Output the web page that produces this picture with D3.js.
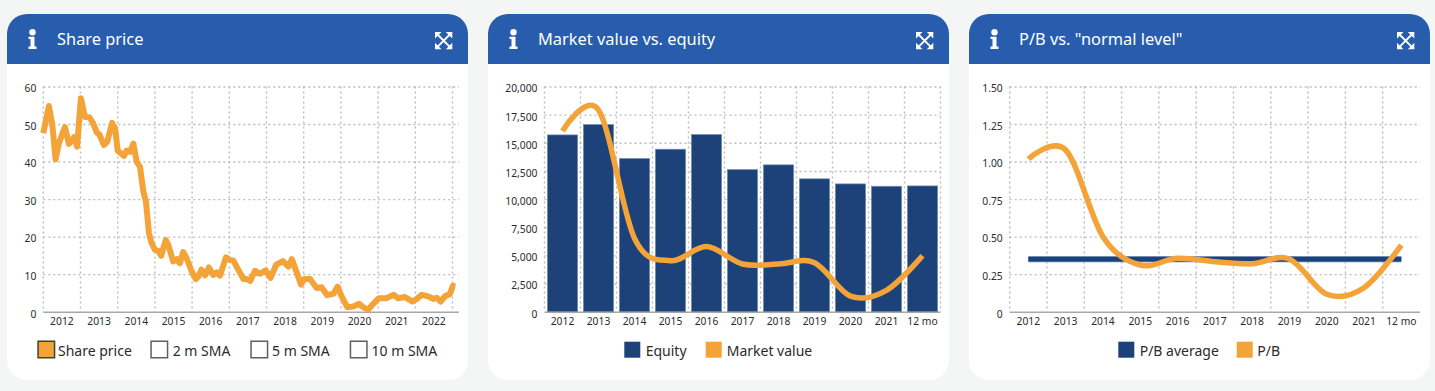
<!DOCTYPE html>
<html>
<head>
<meta charset="utf-8">
<script src="https://cdn.jsdelivr.net/npm/d3@7"></script>
<style>
  html, body { margin: 0; background: #f4f6f6; }
  svg { display: block; }
  text { font-family: "Noto Sans", sans-serif; fill: #2b2b2b; }
  .title { font-size: 16.4px; fill: #fff; }
  .tick text { font-size: 10.3px; }
  .legend text { font-size: 14px; }
  .grid line { stroke: #bcbcbc; stroke-width: 1.4; stroke-dasharray: 2 3; }
  .grid path { display: none; }
  .x-axis path { stroke: #a8a8a8; stroke-width: 1.5; }
  .y-axis path, .y-axis line, .x-axis line { display: none; }
  .curve { fill: none; stroke: #f4a338; stroke-width: 5.5; stroke-linejoin: round; }
  .price { stroke-width: 6; }
</style>
</head>
<body>
<svg id="chart" width="1435" height="391"></svg>
<script>
// share price
const priceYears = [2012,2012.15,2012.24,2012.33,2012.42,2012.58,2012.69,2012.83,2012.91,2013.01,2013.12,2013.24,2013.34,2013.44,2013.51,2013.63,2013.72,2013.85,2013.93,2014,
  2014.17,2014.24,2014.33,2014.42,2014.51,2014.6,2014.69,2014.76,2014.84,2014.91,2015,2015.09,2015.17,2015.29,2015.36,2015.49,2015.59,2015.67,2015.76,2015.85,
  2015.99,2016.1,2016.17,2016.25,2016.35,2016.45,2016.57,2016.66,2016.75,2016.91,2017.02,2017.11,2017.24,2017.38,2017.47,2017.56,2017.69,2017.83,2017.98,2018.11,
  2018.26,2018.44,2018.59,2018.68,2018.77,2018.93,2019.01,2019.17,2019.35,2019.48,2019.63,2019.8,2019.91,2020.02,2020.17,2020.33,2020.49,2020.6,2020.73,2020.87,
  2021.02,2021.23,2021.41,2021.54,2021.72,2021.93,2022.04,2022.17,2022.35,2022.48,2022.58,2022.68,2022.8,2022.93,2023.01,2023.07];
const priceValues = [47.6,54.8,50,40.6,44.9,49.2,44.7,46.5,44,56.9,51.9,51.8,50.2,47.7,47.2,44.4,45.3,50.3,48.9,42.9,
  41.5,42.9,42.6,44.8,40,38.6,32,29.3,21,18.3,16.5,16.2,14.9,19.1,17.8,13.4,14,12.9,15.9,14.3,
  10.7,8.7,9.4,11.2,9.7,11.8,9.8,10.5,9.6,14.5,13.8,13.6,11.2,8.7,8.7,8.2,10.9,10.1,11,9,
  12.5,13.5,12,14,11.6,7.2,8.7,8.7,6.3,6.5,4.4,4.8,6.7,4.1,1.2,1.4,2.1,1.2,0.5,2.1,
  3.6,3.6,4.5,3.6,3.9,2.7,3.4,4.5,4.1,3.4,3.7,2.7,4.1,4.7,6.9,6.7];
const priceYearLabels = ['2012','2013','2014','2015','2016','2017','2018','2019','2020','2021','2022'];
const priceTicks = [0,10,20,30,40,50,60];

const periods = ['2012','2013','2014','2015','2016','2017','2018','2019','2020','2021','12 mo'];
const equity = [15700,16620,13600,14430,15730,12620,13040,11800,11350,11140,11170];
const marketValue = [16050,17910,6517,4530,5780,4236,4236,4350,1380,1900,4970];
const valueTicks = [0,2500,5000,7500,10000,12500,15000,17500,20000];

const pbAverage = [0.35,0.35,0.35,0.35,0.35,0.35,0.35,0.35,0.35,0.35,0.35];
const pb = [1.017,1.077,0.5,0.311,0.356,0.333,0.32,0.351,0.116,0.16,0.444];
const pbTicks = [0,0.25,0.5,0.75,1,1.25,1.5];

const orange = '#f4a338', navy = '#1c4279', blue = '#275dac';
const top_ = 86.5, bottom = 311.7;
const svg = d3.select('#chart');
const yFmt = d3.format(',');
const smooth = d3.curveCatmullRom.alpha(0);

// card with header, returns a group in page coordinates
function card(x, title) {
  const w = 461, r = 20, y0 = 14, y1 = 380, h = 64;
  const g = svg.append('g');
  g.append('rect').attr('x', x).attr('y', y0).attr('width', w).attr('height', y1 - y0).attr('rx', r).attr('fill', '#fff');
  g.append('path').attr('fill', blue)
    .attr('d', `M${x},${h}V${y0 + r}A${r},${r} 0 0 1 ${x + r},${y0}H${x + w - r}A${r},${r} 0 0 1 ${x + w},${y0 + r}V${h}Z`);
  g.append('text').attr('class', 'title').attr('x', x + 50).attr('y', 44.5).text(title);

  // info icon
  const i = g.append('g').attr('transform', `translate(${x + 21.5},29)`).attr('fill', '#fff');
  i.append('circle').attr('cx', 4).attr('cy', 3.3).attr('r', 3.2);
  i.append('path').attr('d', 'M0,7.8H6V17.6H8V20H0V17.6H2V10H0Z');

  // expand icon: four corner arrows on a thin cross
  const e = g.append('g').attr('transform', `translate(${x + 428},32)`);
  e.append('path').attr('fill', '#fff').attr('d', 'M0,0H6.5L0,6.5ZM17.3,0V6.5L10.8,0ZM0,17.3V10.8L6.5,17.3ZM17.3,17.3H10.8L17.3,10.8Z');
  e.append('path').attr('stroke', '#fff').attr('stroke-width', 1.9).attr('d', 'M2,2L15.3,15.3M15.3,2L2,15.3');
  return g;
}

// gridlines and axes shared by the three plots
function frame(g, x0, x1, xEdges, yScale, ticks, fmt, xLabels) {
  const grid = g.append('g');
  grid.append('g').attr('class', 'grid').attr('transform', `translate(${x0},0)`)
    .call(d3.axisLeft(yScale).tickValues(ticks.slice(1)).tickSize(-(x1 - x0)).tickFormat(''));
  grid.append('g').attr('class', 'grid')
    .selectAll('line').data(xEdges).join('line')
      .attr('x1', d => d).attr('x2', d => d).attr('y1', top_).attr('y2', bottom);
  g.append('g').attr('class', 'y-axis').attr('transform', `translate(${x0},0)`)
    .call(d3.axisLeft(yScale).tickValues(ticks).tickFormat(fmt).tickPadding(7).tickSize(0))
    .selectAll('text').attr('dy', '.52em');
  const ax = g.append('g').attr('class', 'x-axis').attr('transform', `translate(0,${bottom})`)
    .call(d3.axisBottom(xLabels).tickSize(0).tickPadding(6).tickSizeOuter(0));
  ax.select('path').attr('d', `M${x0},0.5H${x1}`);
}

function legendBox(g, x, w, fill, label, textX, stroke) {
  const l = g.append('g').attr('class', 'legend');
  const y = w == 18 ? 340.5 : 341.7;
  l.append('rect').attr('x', x + (stroke ? .75 : 0)).attr('y', y + (stroke ? .75 : 0))
    .attr('width', stroke ? w - 1.5 : w).attr('height', stroke ? w - 1.5 : w)
    .attr('fill', fill).attr('stroke', stroke || 'none').attr('stroke-width', 1.5);
  l.append('text').attr('x', textX).attr('y', 355.5).text(label);
}

// --- share price
{
  const g = card(7, 'Share price');
  const x = d3.scaleLinear().domain([2012, 2023]).range([43.3, 452.5]);
  const labels = d3.scaleBand().domain(priceYearLabels).range(x.range());
  const y = d3.scaleLinear().domain([0, 60]).range([bottom, top_]);
  frame(g, 43.3, 459, d3.range(2012, 2024).map(x), y, priceTicks, d3.format('d'), labels);
  const line = d3.line().x((d, i) => x(priceYears[i])).y(d => y(d));
  g.append('path').attr('class', 'curve price').attr('d', line(priceValues));
  legendBox(g, 37.3, 18, orange, 'Share price', 58, '#3f3f3f');
  legendBox(g, 150.3, 18, '#fff', '2 m SMA', 172.7, '#5f5f5f');
  legendBox(g, 250.3, 18, '#fff', '5 m SMA', 272, '#5f5f5f');
  legendBox(g, 349.7, 18, '#fff', '10 m SMA', 371.5, '#5f5f5f');
}

// --- market value vs equity
{
  const g = card(488, 'Market value vs. equity');
  const x = d3.scaleBand().domain(periods).range([544.5, 940.5]).paddingInner(0.16).paddingOuter(0.08);
  const y = d3.scaleLinear().domain([0, 20000]).range([bottom, top_]);
  frame(g, 544.5, 940.5, d3.range(periods.length + 1).map(i => 544.5 + i * x.step()), y, valueTicks, yFmt, x);
  g.append('g').selectAll('rect').data(equity).join('rect')
    .attr('x', (d, i) => x(periods[i]))
    .attr('y', d => y(d))
    .attr('width', x.bandwidth())
    .attr('height', d => bottom - y(d))
    .attr('fill', navy).attr('stroke', '#6f8db8').attr('stroke-width', .7);
  const line = d3.line().curve(smooth)
    .x((d, i) => x(periods[i]) + x.bandwidth() / 2).y(d => y(d));
  g.append('path').attr('class', 'curve').attr('d', line(marketValue));
  legendBox(g, 624.3, 16, navy, 'Equity', 645.7);
  legendBox(g, 705.7, 16, orange, 'Market value', 726.7);
}

// --- P/B
{
  const g = card(969, 'P/B vs. "normal level"');
  const x = d3.scaleBand().domain(periods).range([1009.7, 1420]);
  const y = d3.scaleLinear().domain([0, 1.5]).range([bottom, top_]);
  frame(g, 1009.7, 1420, d3.range(periods.length + 1).map(i => 1009.7 + i * x.step()).slice(0, 11), y, pbTicks,
    d => d == 0 ? '0' : d3.format('.2f')(d), x);
  const line = d3.line().curve(smooth)
    .x((d, i) => x(periods[i]) + x.bandwidth() / 2).y(d => y(d));
  g.append('path').attr('d', line(pbAverage)).attr('fill', 'none').attr('stroke', '#6f8db8').attr('stroke-width', 6);
  g.append('path').attr('d', line(pbAverage)).attr('fill', 'none').attr('stroke', navy).attr('stroke-width', 4.8);
  g.append('path').attr('class', 'curve').attr('d', line(pb));
  legendBox(g, 1118.3, 16, navy, 'P/B average', 1139.7);
  legendBox(g, 1236.7, 16, orange, 'P/B', 1257.3);
}
</script>
</body>
</html>
